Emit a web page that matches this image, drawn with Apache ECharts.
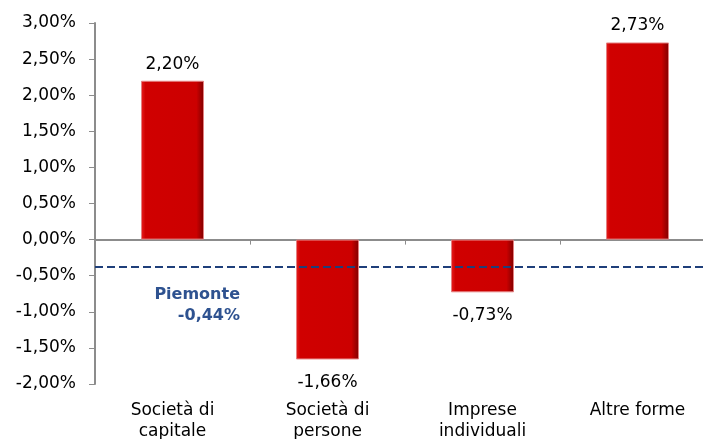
<!DOCTYPE html>
<html>
<head>
<meta charset="utf-8">
<script src="https://cdn.jsdelivr.net/npm/echarts@6/dist/echarts.min.js"></script>
<style>
  html, body { margin: 0; padding: 0; background: #fff; }
  #chart { width: 703px; height: 439px; }
</style>
</head>
<body>
<div id="chart"></div>
<script>
// data
var categories = ['Società di\ncapitale', 'Società di\npersone', 'Imprese\nindividuali', 'Altre forme'];
var values = [2.20, -1.66, -0.73, 2.73];
var piemonteLine = -0.37; // where the dashed line is drawn
var piemonteLabel = ['Piemonte', '-0,44%'];

function pct(v) {
  return v.toFixed(2).replace('.', ',') + '%';
}

var font = 'DejaVu Sans';
var fs = 17;
var chart = echarts.init(document.getElementById('chart'));

var barColor = new echarts.graphic.LinearGradient(0, 0, 1, 0, [
  { offset: 0, color: '#e82020' },
  { offset: 0.07, color: '#d00000' },
  { offset: 0.88, color: '#cc0000' },
  { offset: 1, color: '#7d0000' }
]);

// negative labels sit a bit further from the bar end
var barData = values.map(function (v) {
  return { value: v, label: { distance: v < 0 ? 15 : 8 } };
});

chart.setOption({
  animation: false,
  textStyle: { fontFamily: font },
  grid: { left: 95, width: 620, top: 23, bottom: 55, outerBoundsMode: 'none', containLabel: false },
  xAxis: [
    {
      type: 'category',
      data: categories,
      axisLine: { onZero: true, lineStyle: { color: '#8c8c8c', width: 2 } },
      axisTick: { show: true, length: 5, alignWithLabel: false, lineStyle: { color: '#8c8c8c', width: 1 } },
      axisLabel: { show: false }
    },
    {
      type: 'category',
      data: categories,
      position: 'bottom',
      axisLine: { show: false },
      axisTick: { show: false },
      axisLabel: {
        margin: 16,
        color: '#000',
        fontSize: fs,
        fontFamily: font,
        lineHeight: 21
      }
    }
  ],
  yAxis: {
    type: 'value',
    min: -2,
    max: 3,
    interval: 0.5,
    splitLine: { show: false },
    axisLine: { show: true, lineStyle: { color: '#8c8c8c', width: 2 } },
    axisTick: { show: true, length: 6, lineStyle: { color: '#8c8c8c' } },
    axisLabel: {
      margin: 19,
      color: '#000',
      fontSize: fs,
      fontFamily: font,
      formatter: pct
    }
  },
  series: [
    {
      type: 'bar',
      xAxisIndex: 0,
      data: barData,
      barWidth: 63,
      itemStyle: {
        color: barColor,
        borderColor: '#e58080',
        borderWidth: 1
      },
      label: {
        show: true,
        position: 'outside',
        color: '#000',
        fontSize: fs,
        fontFamily: font,
        formatter: function (p) { return pct(p.value); }
      },
      markLine: {
        silent: true,
        symbol: 'none',
        label: { show: false },
        lineStyle: { color: '#1f3f7a', type: [8, 4], width: 2 },
        data: [{ yAxis: piemonteLine }]
      }
    }
  ],
  graphic: [
    {
      type: 'text',
      x: 240,
      y: 295,
      style: {
        text: piemonteLabel[0],
        fill: '#2e5290',
        font: 'bold 16px "DejaVu Sans"',
        textAlign: 'right',
        textVerticalAlign: 'middle'
      }
    },
    {
      type: 'text',
      x: 240,
      y: 316,
      style: {
        text: piemonteLabel[1],
        fill: '#2e5290',
        font: 'bold 16px "DejaVu Sans"',
        textAlign: 'right',
        textVerticalAlign: 'middle'
      }
    }
  ]
});
</script>
</body>
</html>
